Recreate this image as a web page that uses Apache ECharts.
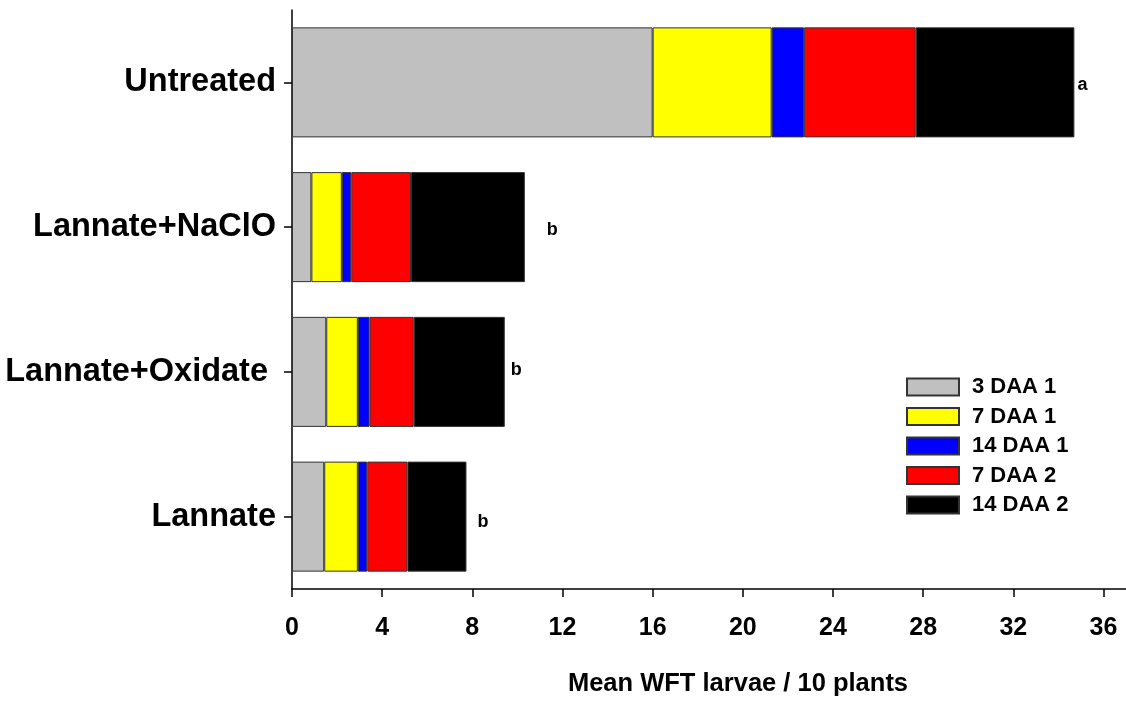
<!DOCTYPE html>
<html>
<head>
<meta charset="utf-8">
<script src="https://cdn.jsdelivr.net/npm/echarts@6/dist/echarts.min.js"></script>
<style>
html,body{margin:0;padding:0;background:#fff;}
#chart{width:1126px;height:702px;}
</style>
</head>
<body>
<div id="chart"></div>
<script>
const categories = ['Untreated', 'Lannate+NaClO', 'Lannate+Oxidate', 'Lannate'];
const seriesNames = ['3 DAA 1', '7 DAA 1', '14 DAA 1', '7 DAA 2', '14 DAA 2'];
const daa3_1  = [16.0, 0.86, 1.52, 1.43];
const daa7_1  = [5.28, 1.35, 1.40, 1.49];
const daa14_1 = [1.44, 0.42, 0.52, 0.42];
const daa7_2  = [4.95, 2.65, 1.96, 1.78];
const daa14_2 = [7.04, 5.05, 4.04, 2.62];
const letters = ['a', 'b', 'b', 'b'];
const xTicks = [0, 4, 8, 12, 16, 20, 24, 28, 32, 36];

const colors = ['#c0c0c0', '#ffff00', '#0000ff', '#ff0000', '#000000'];
const values = [daa3_1, daa7_1, daa14_1, daa7_2, daa14_2];
const letterShift = [[3, 3], [22, 3], [6, -1.5], [11, 5.5]];
const FONT = 'Liberation Sans, Arial, sans-serif';

const chart = echarts.init(document.getElementById('chart'));
const series = seriesNames.map((name, si) => ({
  name: name,
  type: 'bar',
  stack: 'total',
  barCategoryGap: '24%',
  itemStyle: { color: colors[si], borderColor: '#333', borderWidth: 1 },
  data: values[si].map((v, ci) => {
    if (si !== seriesNames.length - 1) return v;
    return {
      value: v,
      label: {
        show: true,
        position: 'right',
        distance: 0,
        offset: letterShift[ci],
        formatter: letters[ci],
        color: '#000',
        fontFamily: FONT,
        fontWeight: 'bold',
        fontSize: 18
      }
    };
  })
}));

chart.setOption({
  animation: false,
  backgroundColor: '#fff',
  grid: { left: 292, right: 0, top: 10, bottom: 109, containLabel: false },
  legend: {
    orient: 'vertical',
    left: 901,
    top: 371,
    itemWidth: 52,
    itemHeight: 17,
    itemGap: 7.5,
    icon: 'rect',
    data: seriesNames,
    textStyle: {
      color: '#000',
      fontFamily: FONT,
      fontWeight: 'bold',
      fontSize: 22,
      padding: [0, 0, 0, 8]
    }
  },
  xAxis: {
    type: 'value',
    min: 0,
    max: 37,
    interval: 4,
    name: 'Mean WFT larvae / 10 plants',
    nameLocation: 'middle',
    nameGap: 82,
    nameTextStyle: {
      color: '#000',
      fontFamily: FONT,
      fontWeight: 'bold',
      fontSize: 25.5,
      padding: [0, 0, 0, 58]
    },
    splitLine: { show: false },
    axisLine: { show: true, lineStyle: { color: '#000', width: 1.5 } },
    axisTick: { show: true, length: 8, lineStyle: { color: '#000', width: 1.5 } },
    axisLabel: {
      showMaxLabel: false,
      margin: 27,
      color: '#000',
      fontFamily: FONT,
      fontWeight: 'bold',
      fontSize: 25,
      formatter: v => (xTicks.indexOf(v) >= 0 ? String(v) : '')
    }
  },
  yAxis: {
    type: 'category',
    data: categories,
    inverse: true,
    axisLine: { show: true, lineStyle: { color: '#000', width: 1.5 } },
    axisTick: { show: true, alignWithLabel: true, length: 8, lineStyle: { color: '#000', width: 1.5 } },
    axisLabel: {
      margin: 16,
      color: '#000',
      fontFamily: FONT,
      fontWeight: 'bold',
      fontSize: 32.5,
      formatter: v => (v === 'Lannate+Oxidate' ? '{shift|' + v + '}' : v),
      rich: {
        shift: {
          color: '#000',
          fontFamily: FONT,
          fontWeight: 'bold',
          fontSize: 32.5,
          padding: [0, 8, 0, 0]
        }
      }
    }
  },
  series: series
});
</script>
</body>
</html>
